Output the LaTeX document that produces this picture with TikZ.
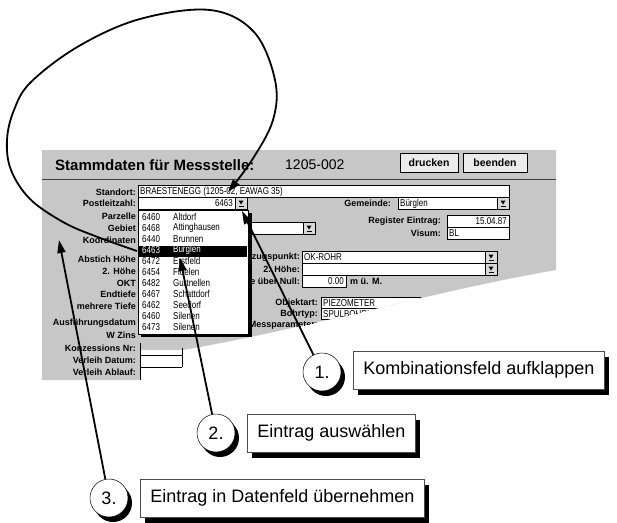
\documentclass[tikz,border=0pt]{standalone}
\usepackage{fontspec}
\setmainfont{Liberation Sans}
\newfontfamily\narrowfont[FakeStretch=0.8]{Liberation Sans}
\usetikzlibrary{arrows.meta,patterns}

\tikzset{
  panellbl/.style={font=\bfseries\fontsize{9}{10}\selectfont, anchor=east, inner sep=0pt},
  fieldbox/.style={draw=black, fill=white, line width=0.5pt},
  fieldtxt/.style={font=\narrowfont\fontsize{10}{11}\selectfont, inner sep=0pt},
  listtxt/.style={font=\narrowfont\fontsize{10}{11}\selectfont, inner sep=0pt, anchor=west},
  btnbox/.style={draw=black, line width=0.7pt, fill=black!8, minimum height=19pt, inner sep=0pt,
    font=\bfseries\fontsize{10.5}{12}\selectfont},
  numcirc/.style={circle, draw=black, line width=0.5pt, fill=white, minimum size=38pt, inner sep=0pt,
    font=\fontsize{18}{18}\selectfont,
    preaction={fill=black, transform canvas={xshift=4pt, yshift=-5pt}}},
  stepnote/.style={draw=black!70, line width=0.5pt, fill=white, anchor=west, minimum height=38pt,
    inner xsep=10pt, font=\fontsize{18}{20}\selectfont,
    preaction={fill=black, transform canvas={xshift=5pt, yshift=-6pt}}},
  pointer/.style={line width=1.8pt, -{Triangle[length=13pt,width=8pt]}}
}

% small combo box button, top left corner at (#1,#2)
\newcommand{\combobtn}[2]{%
  \draw[fill=black!15, line width=0.5pt] (#1,#2) rectangle (#1+12,#2+12);
  \fill (#1+3.5,#2+3.5) -- (#1+8.5,#2+3.5) -- (#1+6,#2+7.5) -- cycle;
  \draw[line width=0.6pt] (#1+3.5,#2+9) -- (#1+8.5,#2+9);
}

\begin{document}
\begin{tikzpicture}[x=1pt,y=-1pt]
\useasboundingbox (0,0) rectangle (617,522);

%Shape: torn form panel
\begin{scope}
\clip (42,150) -- (556,150) -- (556,270) .. controls (440,290) and (300,330) .. (183,350)
  -- (140,350) -- (140,380) -- (42,380) -- cycle;
\fill[black!22] (0,0) rectangle (617,522);
%Straight Lines: title rule
\draw[line width=0.8pt, black!75] (42,179) -- (556,179);

% Text Node: title
\node[anchor=west, inner sep=0pt, font=\bfseries\fontsize{15}{16}\selectfont] (title) at (55,165) {Stammdaten für Messstelle:};
\node[anchor=west, inner sep=0pt, font=\fontsize{14}{15}\selectfont] (msnr) at (285,165) {1205-002};
% buttons
\node[btnbox, minimum width=58pt] (drucken) at (429,163) {drucken};
\node[btnbox, minimum width=64pt] (beenden) at (495,163) {beenden};

% left labels
\foreach \txt/\yy [count=\i] in {Standort:/192, Postleitzahl:/203, Parzelle/216, Gebiet/228,
    Koordinaten/240, Abstich Höhe/259, 2. Höhe/271, OKT/283, Endtiefe/294, mehrere Tiefe/306,
    Ausführungsdatum/323, W Zins/335, Konzessions Nr:/348, Verleih Datum:/360, Verleih Ablauf:/372}
  \node[panellbl] (lbl\i) at (136,\yy) {\txt};

%Shape: Standort field
\draw[fieldbox] (138,185) rectangle (509,197);
\node[fieldtxt, anchor=west] (standort) at (140,191.5) {BRAESTENEGG (1205-02, EAWAG 35)};
%Shape: Postleitzahl field
\draw[fieldbox] (138,197) rectangle (235,209);
\node[fieldtxt, anchor=east] (plz) at (233,203.5) {6463};
\combobtn{235}{197}
%Shape: Gemeinde field
\node[panellbl] (gemlbl) at (391,203) {Gemeinde:};
\draw[fieldbox] (398,197) rectangle (509,209);
\node[fieldtxt, anchor=west] (gemeinde) at (400,203.5) {Bürglen};
\combobtn{497}{197}
%Shape: Gebiet field
\draw[fieldbox] (240,222) rectangle (303,234);
\combobtn{303}{222}
%Shape: Register / Visum fields
\node[panellbl] (reglbl) at (441,221) {Register Eintrag:};
\node[panellbl] (vislbl) at (441,233) {Visum:};
\draw[fieldbox] (447,215) rectangle (509,227);
\draw[fieldbox] (447,227) rectangle (509,239);
\node[fieldtxt, anchor=east] (regdate) at (507,221.5) {15.04.87};
\node[fieldtxt, anchor=west] (visum) at (449,233.5) {BL};
%Shape: Bezugspunkt fields
\node[panellbl] (bezlbl) at (300,257) {Bezugspunkt:};
\node[panellbl] (h2lbl) at (300,269) {2. Höhe:};
\node[panellbl] (nulllbl) at (300,281) {Höhe über Null:};
\draw[fieldbox] (302,251) rectangle (485,263);
\draw[fieldbox] (302,263) rectangle (485,275);
\combobtn{485}{251}
\combobtn{485}{263}
\draw[fieldbox] (302,275) rectangle (346,287);
\node[fieldtxt, anchor=west] (bezug) at (304,257.5) {OK-ROHR};
\node[fieldtxt, anchor=east] (nullval) at (344,281.5) {0.00};
\node[panellbl, anchor=west] (muem) at (350,281) {m ü. M.};
%Shape: Objektart fields
\node[panellbl] (objlbl) at (318,303) {Objektart:};
\node[panellbl] (bohrlbl) at (318,314) {Bohrtyp:};
\node[panellbl] (messlbl) at (318,325) {Messparameter:};
\draw[fieldbox] (321,297) rectangle (420,308);
\draw[fieldbox] (321,308) rectangle (420,319);
\node[fieldtxt, anchor=west] (objart) at (323,303) {PIEZOMETER};
\node[fieldtxt, anchor=west] (bohrtyp) at (323,314) {SPULBOHRUNG};
\end{scope}

%Shape: Verleih field
\draw[line width=0.5pt] (140,343) -- (140,380);
\draw[line width=0.5pt] (182,348) -- (182,367);
\draw[line width=0.5pt] (140,355) -- (182,355) (140,367) -- (182,367);

%Shape: drop down list
\fill (141,213) rectangle (252,337);
\draw[fill=white, line width=0.5pt] (138,210) rectangle (248,334);
\fill (139,245.5) rectangle (247,256.5);
\foreach \code/\town [count=\i] in {6460/Altdorf, 6468/Attinghausen, 6440/Brunnen, 6463/Bürglen,
    6472/Erstfeld, 6454/Flüelen, 6482/Gurtnellen, 6467/Schattdorf, 6462/Seedorf, 6460/Silenen,
    6473/Silenen} {
  \pgfmathsetmacro\yy{217+11*(\i-1)}
  \def\rowcol{black}
  \ifnum\i=4 \def\rowcol{white}\fi
  \node[listtxt, text=\rowcol] (code\i) at (142,\yy) {\code};
  \node[listtxt, text=\rowcol] (town\i) at (173,\yy) {\town};
}

% callouts
\node[numcirc] (n1) at (322,372) {1.};
\node[stepnote] (s1) at (353,370) {Kombinationsfeld aufklappen};
\node[numcirc] (n2) at (216,433) {2.};
\node[stepnote] (s2) at (247,433) {Eintrag auswählen};
\node[numcirc] (n3) at (109,498) {3.};
\node[stepnote] (s3) at (140,498) {Eintrag in Datenfeld übernehmen};

% arrow targets
\coordinate (combo) at (242,211);
\coordinate (entry) at (180,258);
\coordinate (field) at (59,240);
\coordinate (loopstart) at (137,251);
\coordinate (loopend) at (228,192);

%Straight Lines
\draw[pointer] (n1) -- (combo);
\draw[pointer] (n2) -- (entry);
\draw[pointer] (n3) -- (field);
%Curve: loop back to Standort
\draw[pointer] plot[smooth, tension=0.6] coordinates {(loopstart) (95,236) (63,222) (30,199)
  (11,170) (7,140) (14,110) (31,82) (79,46) (140,19) (210,10) (254,32) (275,80) (273,120)
  (252,160) (loopend)};

\end{tikzpicture}
\end{document}
